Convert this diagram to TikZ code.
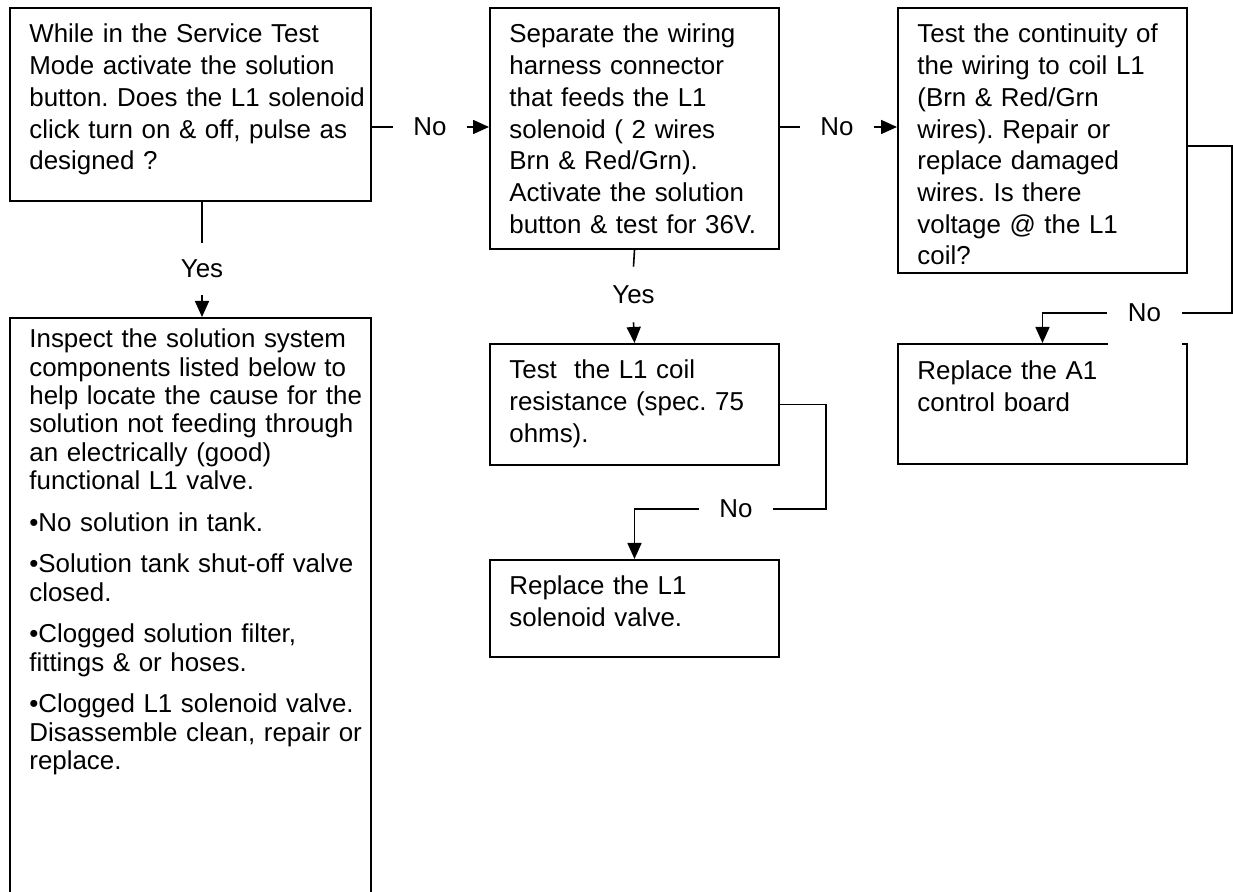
\documentclass[tikz,border=0pt]{standalone}
\usepackage{fontspec}
\setmainfont{Liberation Sans}
\usetikzlibrary{arrows.meta}
\begin{document}
\begin{tikzpicture}[x=0.5pt,y=-0.5pt,
  box/.style={draw,line width=1pt,inner sep=0pt,anchor=north west},
  txt/.style={anchor=base west,inner sep=0pt,text width=200pt,align=left,
    font=\fontsize{12.95pt}{15.85pt}\selectfont\frenchspacing},
  txtg/.style={txt,font=\fontsize{12.95pt}{14.15pt}\selectfont\frenchspacing},
  lbl/.style={fill=white,inner xsep=0pt,inner ysep=0pt,minimum width=37pt,
    font=\fontsize{12.95pt}{15.85pt}\selectfont},
  conn/.style={line width=0.8pt},
  arr/.style={conn,-{Triangle[length=8pt,width=7pt]}}]
\clip (0,0) rectangle (1233,892);
\fill[white] (0,0) rectangle (1233,892);
% boxes
\node[box,minimum width=180.5pt,minimum height=96.5pt] (A) at (9,7) {};
\node[box,minimum width=144.5pt,minimum height=120.5pt] (B) at (489,7) {};
\node[box,minimum width=144.5pt,minimum height=132.5pt] (E) at (897,7) {};
\node[box,minimum width=144.5pt,minimum height=60.5pt] (C) at (489,343) {};
\node[box,minimum width=144.5pt,minimum height=48.5pt] (D) at (489,559) {};
\node[box,minimum width=144.5pt,minimum height=60pt] (F) at (897,343) {};
\node[box,minimum width=180.5pt,minimum height=300pt] (G) at (9,317) {};
% texts
\node[txt] (tA) at (29,43) {While in the Service Test\\Mode activate the solution\\button. Does the L1 solenoid\\click turn on \& off, pulse as\\designed ?};
\node[txt] (tB) at (509,43) {Separate the wiring\\harness connector\\that feeds the L1\\solenoid ( 2 wires\\Brn \& Red/Grn).\\Activate the solution\\button \& test for 36V.};
\node[txt] (tE) at (917,43) {Test the continuity of\\the wiring to coil L1\\(Brn \& Red/Grn\\wires). Repair or\\replace damaged\\wires. Is there\\voltage @ the L1\\coil?};
\node[txt] (tC) at (509,379) {Test\ \ the L1 coil\\resistance (spec. 75\\ohms).};
\node[txt] (tD) at (509,595) {Replace the L1\\solenoid valve.};
\node[txt] (tF) at (917,380) {Replace the A1\\control board};
\node[txtg] (tG) at (29,348) {Inspect the solution system\\components listed below to\\help locate the cause for the\\solution not feeding through\\an electrically (good)\\functional L1 valve.\\[6.7pt]•No solution in tank.\\[6.7pt]•Solution tank shut-off valve\\closed.\\[6.7pt]•Clogged solution filter,\\fittings \& or hoses.\\[6.7pt]•Clogged L1 solenoid valve.\\Disassemble clean, repair or\\replace.};
% labels
\node[lbl] (noA) at (430,127) {No};
\node[lbl] (noB) at (837,127) {No};
\node[lbl,minimum height=26pt] (yesA) at (202,269) {Yes};
\node[lbl,minimum height=27.5pt] (yesB) at (633.5,294.5) {Yes};
\node[lbl] (noC) at (736,509) {No};
\node[lbl,minimum height=32pt] (noE) at (1144.5,313) {No};
\coordinate (cr) at (826,509);
\coordinate (er) at (1232,146);
% connectors
\draw[conn] (A.east |- noA.west) -- (noA.west);
\draw[arr] (noA.east) -- (B.west |- noA.east);
\draw[conn] (B.east |- noB.west) -- (noB.west);
\draw[arr] (noB.east) -- (E.west |- noB.east);
\draw[conn] (A.south -| yesA.north) -- (yesA.north);
\draw[arr] (yesA.south) -- (G.north -| yesA.south);
\draw[conn] (B.south) -- (yesB.north);
\draw[arr] (yesB.south) -- (C.north);
\draw[conn] (C.east) -| (cr) -- (noC.east);
\draw[arr] (noC.west) -| (D.north);
\draw[conn] (E.east |- er) -- (er) |- (noE.east);
\draw[arr] (noE.west) -| (F.north);
\end{tikzpicture}
\end{document}
